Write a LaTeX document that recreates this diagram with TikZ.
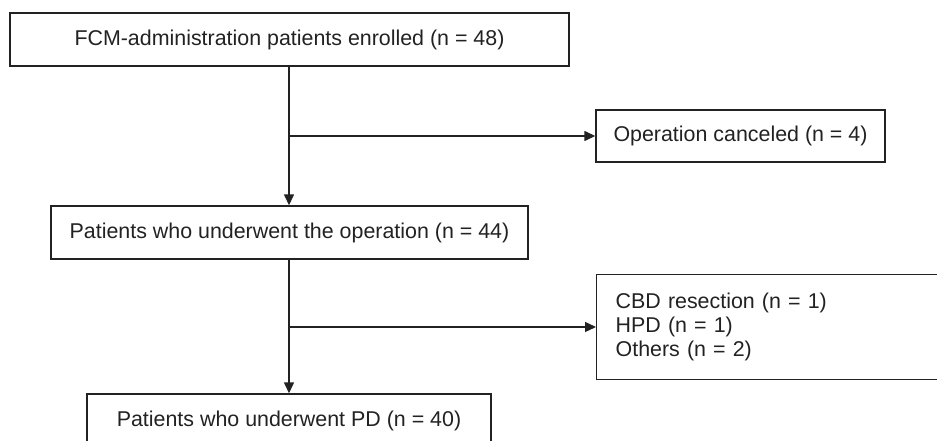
\documentclass[tikz,border=0pt]{standalone}
\usepackage{fontspec}
\setmainfont{Liberation Sans}
\usetikzlibrary{arrows.meta}
\definecolor{ink}{HTML}{222222}
\begin{document}
\begin{tikzpicture}[x=1pt,y=-1pt,
  box/.style={draw=ink, line width=1.4pt, text=ink, inner sep=0pt, font=\fontsize{21.4}{24}\selectfont},
  conn/.style={draw=ink, line width=1.4pt},
  arr/.style={conn, -{Triangle[length=11pt,width=10pt]}}]
\useasboundingbox (0,0) rectangle (937,441);
\clip (0,0) rectangle (937,441);
\fill[white] (0,0) rectangle (937,441);
\node[box, minimum width=559pt, minimum height=53pt] (b1) at (289.5,39.5) {FCM-administration patients enrolled (n = 48)};
\node[box, minimum width=477pt, minimum height=53pt] (b2) at (289.5,232.5) {Patients who underwent the operation (n = 44)};
\node[box, minimum width=404pt, minimum height=53pt] (b3) at (289,420.5) {Patients who underwent PD (n = 40)};
\node[box, minimum width=289pt, minimum height=52pt] (oc) at (740.5,136) {Operation canceled (n = 4)};
\node[box, anchor=north west, minimum width=380pt, minimum height=105pt, text width=342pt, inner xsep=19pt, align=left] (ex) at (596,274) {CBD resection (n = 1)\\HPD (n = 1)\\Others (n = 2)};
\coordinate (j1) at (289,136);
\coordinate (j2) at (289,327);
\draw[arr] (b1.south -| j1) -- (b2.north -| j1);
\draw[arr] (j1) -- (oc.west);
\draw[arr] (b2.south -| j2) -- (b3.north -| j2);
\draw[arr] (j2) -- (j2 -| ex.west);
\end{tikzpicture}
\end{document}
